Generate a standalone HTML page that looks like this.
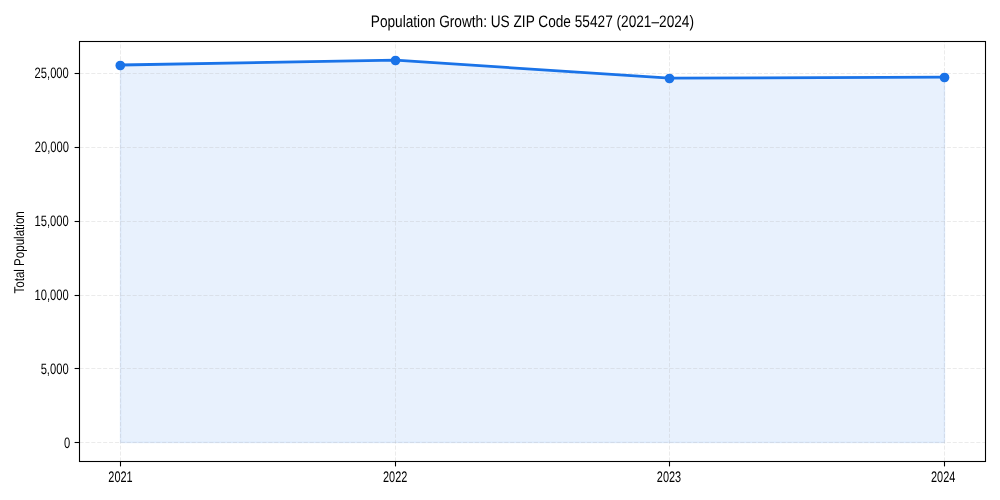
<!DOCTYPE html>
<html lang="en"><head><meta charset="utf-8"><title>Population Growth: US ZIP Code 55427 (2021–2024)</title>
<style>html,body{margin:0;padding:0;background:#fff;}svg{display:block;will-change:transform;}text{text-rendering:geometricPrecision;font-family:"Liberation Sans",sans-serif;fill:#000;}</style>
</head><body>
<svg width="1000" height="500" viewBox="0 0 1000 500">
<rect x="0" y="0" width="1000" height="500" fill="#ffffff"/>
<polygon points="120.50,65.00 395.50,60.20 669.50,78.10 944.50,77.20 944.50,442.50 120.50,442.50" fill="#1a73e8" fill-opacity="0.1" stroke="#1a73e8" stroke-opacity="0.1" stroke-width="1.39" stroke-linejoin="miter"/>
<g stroke="#b0b0b0" stroke-opacity="0.26" stroke-width="1" stroke-dasharray="4.1 1.8" fill="none">
<line x1="120.50" y1="461.5" x2="120.50" y2="41.5"/>
<line x1="395.50" y1="461.5" x2="395.50" y2="41.5"/>
<line x1="669.50" y1="461.5" x2="669.50" y2="41.5"/>
<line x1="944.50" y1="461.5" x2="944.50" y2="41.5"/>
<line x1="79.5" y1="442.50" x2="985.5" y2="442.50"/>
<line x1="79.5" y1="368.50" x2="985.5" y2="368.50"/>
<line x1="79.5" y1="295.50" x2="985.5" y2="295.50"/>
<line x1="79.5" y1="221.50" x2="985.5" y2="221.50"/>
<line x1="79.5" y1="147.50" x2="985.5" y2="147.50"/>
<line x1="79.5" y1="73.50" x2="985.5" y2="73.50"/>
</g>
<polyline points="120.50,65.00 395.50,60.20 669.50,78.10 944.50,77.20" fill="none" stroke="#1a73e8" stroke-width="2.8" stroke-linejoin="round" stroke-linecap="butt"/>
<circle cx="120.30" cy="65.50" r="4.85" fill="#1a73e8"/>
<circle cx="395.50" cy="60.50" r="4.85" fill="#1a73e8"/>
<circle cx="669.50" cy="78.50" r="4.85" fill="#1a73e8"/>
<circle cx="944.50" cy="77.50" r="4.85" fill="#1a73e8"/>
<g stroke="#000" stroke-width="1.1">
<line x1="120.50" y1="461.5" x2="120.50" y2="466.40"/>
<line x1="395.50" y1="461.5" x2="395.50" y2="466.40"/>
<line x1="669.50" y1="461.5" x2="669.50" y2="466.40"/>
<line x1="944.50" y1="461.5" x2="944.50" y2="466.40"/>
<line x1="79.5" y1="442.50" x2="74.60" y2="442.50"/>
<line x1="79.5" y1="368.50" x2="74.60" y2="368.50"/>
<line x1="79.5" y1="295.50" x2="74.60" y2="295.50"/>
<line x1="79.5" y1="221.50" x2="74.60" y2="221.50"/>
<line x1="79.5" y1="147.50" x2="74.60" y2="147.50"/>
<line x1="79.5" y1="73.50" x2="74.60" y2="73.50"/>
</g>
<rect x="79.5" y="41.5" width="906.0" height="420.0" fill="none" stroke="#000" stroke-width="1.1"/>
<text transform="translate(120.50,481.9) scale(0.715,1)" font-size="15.3" text-anchor="middle">2021</text>
<text transform="translate(395.20,481.9) scale(0.715,1)" font-size="15.3" text-anchor="middle">2022</text>
<text transform="translate(669.00,481.9) scale(0.715,1)" font-size="15.3" text-anchor="middle">2023</text>
<text transform="translate(943.20,481.9) scale(0.715,1)" font-size="15.3" text-anchor="middle">2024</text>
<text transform="translate(70.20,447.60) scale(0.745,1)" font-size="15.0" text-anchor="end">0</text>
<text transform="translate(68.60,373.60) scale(0.745,1)" font-size="15.0" text-anchor="end">5,000</text>
<text transform="translate(68.70,299.60) scale(0.745,1)" font-size="15.0" text-anchor="end">10,000</text>
<text transform="translate(68.70,226.40) scale(0.745,1)" font-size="15.0" text-anchor="end">15,000</text>
<text transform="translate(69.00,152.30) scale(0.745,1)" font-size="15.0" text-anchor="end">20,000</text>
<text transform="translate(68.80,78.40) scale(0.745,1)" font-size="15.0" text-anchor="end">25,000</text>
<text transform="translate(24.2,252.4) rotate(-90) scale(0.815,1)" font-size="14.2" text-anchor="middle">Total Population</text>
<text transform="translate(532.4,26.9) scale(0.82,1)" font-size="16.67" text-anchor="middle">Population Growth: US ZIP Code 55427 (2021–2024)</text>
</svg></body></html>
